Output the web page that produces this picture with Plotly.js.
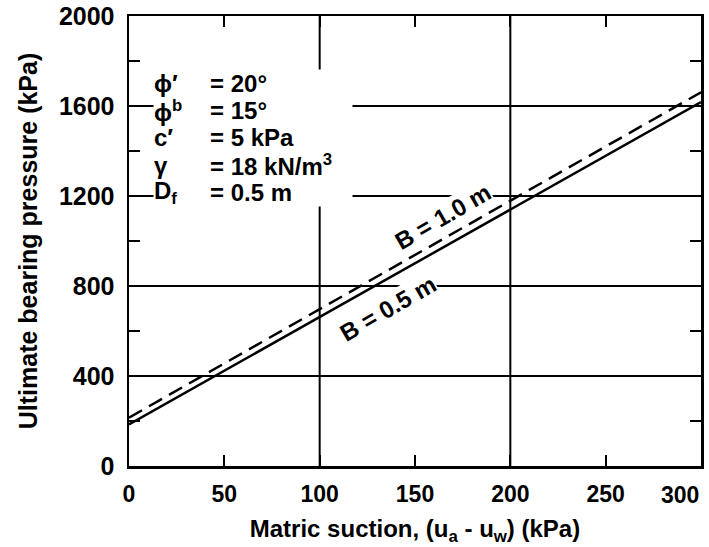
<!DOCTYPE html>
<html>
<head>
<meta charset="utf-8">
<script src="https://cdn.plot.ly/plotly-3.0.1.min.js"></script>
<style>
  html, body { margin: 0; padding: 0; background: #ffffff; }
  #chart { width: 709px; height: 547px; }
</style>
</head>
<body>
<div id="chart"></div>
<script>
// ---- data ----
const suction = [0, 300];                 // matric suction (kPa)
const qB05 = [185, 1617];                 // B = 0.5 m, ultimate bearing pressure (kPa)
const qB10 = [215, 1661];                 // B = 1.0 m
const xTickValues = [0, 50, 100, 150, 200, 250, 300];
const xTickLabels = ['0', '50', '100', '150', '200', '250', '300'];
const xGridValues = [100, 200];
const paramSymbols = ['ϕ′', 'ϕ<sup>b</sup>', 'c′', 'γ', 'D<sub>f</sub>'];
const paramValues = ['= 20°', '= 15°', '= 5 kPa', '= 18 kN/m<sup>3</sup>', '= 0.5 m'];
const seriesLabels = ['B = 0.5 m', 'B = 1.0 m'];

const FONT = 'Liberation Sans, Arial, Helvetica, sans-serif';
const TXT = (size) => ({ family: FONT, size: size, color: '#000', weight: 'bold' });

// the last x label sits inside the frame (right-aligned) in the original,
// so it is drawn as an annotation anchored at its tick value
const lastIdx = xTickLabels.length - 1;
const xTickText = xTickLabels.map((t, i) => (i === lastIdx ? '' : t));

const traces = [
  { x: suction, y: qB05, mode: 'lines', line: { color: '#000', width: 2.5 }, name: seriesLabels[0], hoverinfo: 'skip' },
  { x: suction, y: qB10, mode: 'lines', line: { color: '#000', width: 2.5, dash: '15px,8px' }, name: seriesLabels[1], hoverinfo: 'skip' }
];

// parameter block: one annotation per row and column, evenly spaced rows
const rowTop = 1700, rowStep = 121;
const symbolHasBg = [false, true, false, false, true]; // rows that sit on grid lines
const symbolAnn = paramSymbols.map((s, i) => ({
  xref: 'paper', yref: 'y', x: 0.042, y: rowTop - i * rowStep, xanchor: 'left', yanchor: 'middle',
  text: s, align: 'left', width: 56, showarrow: false,
  bgcolor: symbolHasBg[i] ? '#fff' : 'rgba(0,0,0,0)', borderpad: 0, font: TXT(24)
}));
// draw boxed rows first so unboxed glyphs stay on top
const symbolOrdered = symbolAnn.filter((a, i) => symbolHasBg[i]).concat(symbolAnn.filter((a, i) => !symbolHasBg[i]));
const valueAnn = paramValues.map((v, i) => ({
  xref: 'paper', yref: 'y', x: 0.139, y: rowTop - i * rowStep, xanchor: 'left', yanchor: 'middle',
  text: v, align: 'left', width: 142, showarrow: false, bgcolor: '#fff', borderpad: 0, font: TXT(24)
}));

const layout = {
  width: 709, height: 547,
  margin: { l: 129, r: 8, t: 16, b: 81 },
  paper_bgcolor: '#fff', plot_bgcolor: '#fff',
  showlegend: false,
  font: TXT(23),
  xaxis: {
    range: [0, 300], tickmode: 'array', tickvals: xTickValues, ticktext: xTickText,
    ticks: 'inside', ticklen: 11, tickwidth: 2, tickcolor: '#000',
    showline: true, linewidth: 2.5, linecolor: '#000', mirror: 'ticks',
    showgrid: false, zeroline: false,
    tickfont: TXT(23),
    ticklabelstandoff: 6,
    title: { text: 'Matric suction, (u<sub>a</sub> - u<sub>w</sub>) (kPa)', font: TXT(24), standoff: 14 }
  },
  yaxis: {
    range: [0, 2000], tickmode: 'linear', tick0: 0, dtick: 400,
    ticks: 'inside', ticklen: 11, tickwidth: 2, tickcolor: '#000',
    showline: true, linewidth: 2.5, linecolor: '#000', mirror: 'ticks',
    showgrid: true, gridcolor: '#000', gridwidth: 2, zeroline: false,
    minor: { tick0: 0, dtick: 200, ticks: 'inside', ticklen: 11, tickwidth: 2, tickcolor: '#000', showgrid: false },
    tickfont: TXT(25),
    ticklabelstandoff: 7,
    title: { text: 'Ultimate bearing pressure (kPa)', font: TXT(25), standoff: 14 }
  },
  shapes: xGridValues.map(v => ({
    type: 'line', xref: 'x', yref: 'paper', x0: v, x1: v, y0: 0, y1: 1,
    line: { color: '#000', width: 2 }, layer: 'below'
  })),
  annotations: symbolOrdered.concat(valueAnn).concat([
    { xref: 'x', yref: 'y', x: 164.7, y: 1108, text: seriesLabels[1], textangle: -30,
      showarrow: false, bgcolor: '#fff', borderpad: 0, font: TXT(24) },
    { xref: 'x', yref: 'y', x: 135.8, y: 700, text: seriesLabels[0], textangle: -30,
      showarrow: false, bgcolor: '#fff', borderpad: 0, font: TXT(24) },
    { xref: 'x', yref: 'paper', x: xTickValues[lastIdx], y: 0, xanchor: 'right', yanchor: 'top',
      yshift: -14, text: xTickLabels[lastIdx], showarrow: false, font: TXT(23) }
  ])
};

Plotly.newPlot('chart', traces, layout, { staticPlot: true, displayModeBar: false });
</script>
</body>
</html>
